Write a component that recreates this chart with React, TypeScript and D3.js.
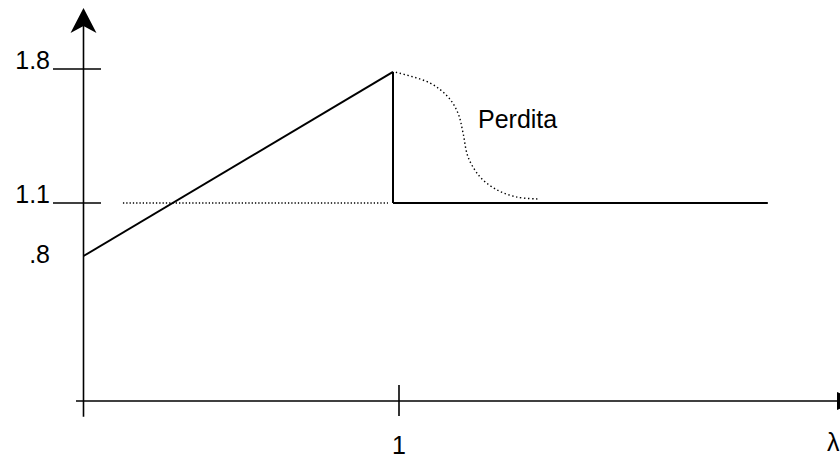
import React from "react";
import * as d3 from "d3";

const W = 840;
const H = 454;

// data (λ, value)
const risingLine: [number, number][] = [[0, 0.8], [0.981, 1.785]];
const dropLine: [number, number][] = [[0.981, 1.785], [0.981, 1.1]];
const plateau: [number, number][] = [[0.981, 1.1], [2.169, 1.1]];
const dottedRef: [number, number][] = [[0.125, 1.1], [0.965, 1.1]];
const lossCurve: [number, number][] = [
  [0.99, 1.783], [1.098, 1.727], [1.155, 1.655], [1.187, 1.57], [1.203, 1.466],
  [1.219, 1.34], [1.257, 1.236], [1.311, 1.168], [1.374, 1.131], [1.441, 1.121],
];
const yTicks = [1.8, 1.1];
const yLabels = [
  { v: 1.8, t: "1.8" },
  { v: 1.1, t: "1.1" },
  { v: 0.8, t: ".8" },
];
const xTicks = [1];
const xTickLabels = ["1"];
const annotation = "Perdita";
const xAxisName = "λ";

export default function App() {
  const x = d3.scaleLinear().domain([0, 1]).range([83.5, 399]);
  const y = d3.scaleLinear().domain([0, 0.8, 1.1, 1.8]).range([401, 256, 203, 69]);
  const line = d3.line<[number, number]>().x((d) => x(d[0])).y((d) => y(d[1]));
  const curve = d3
    .line<[number, number]>()
    .x((d) => x(d[0]))
    .y((d) => y(d[1]))
    .curve(d3.curveCatmullRom.alpha(0.5));

  const x0 = x(0);
  const y0 = y(0);
  const font = "'Liberation Sans', Arial, sans-serif";
  const fs = 25;
  return (
    <svg
      width={W}
      height={H}
      style={{ position: "absolute", left: 0, top: 0, display: "block", background: "#fff" }}
      fontFamily={font}
    >
      {/* y axis */}
      <line x1={x0} x2={x0} y1={416.7} y2={20} stroke="#000" strokeWidth={1.6} />
      <path d={`M${x0},8 L${x0 + 13},33 L${x0},26 L${x0 - 13},33 Z`} fill="#000" />
      {/* x axis */}
      <line x1={76} x2={850} y1={y0} y2={y0} stroke="#000" strokeWidth={1.6} />
      <path d={`M860,${y0} L837,${y0 - 9} L837,${y0 + 9} Z`} fill="#000" />
      {/* y ticks */}
      {yTicks.map((v) => (
        <line key={v} x1={53} x2={101} y1={y(v)} y2={y(v)} stroke="#000" strokeWidth={1.6} />
      ))}
      {yLabels.map((l) => (
        <text
          key={l.t}
          x={50}
          y={y(l.v) + (l.v === 0.8 ? 7 : 0)}
          textAnchor="end"
          fontSize={fs}
          fill="#000"
        >
          {l.t}
        </text>
      ))}
      {/* x ticks */}
      {xTicks.map((v, i) => (
        <g key={v}>
          <line x1={x(v)} x2={x(v)} y1={385} y2={416} stroke="#000" strokeWidth={1.6} />
          <text x={x(v)} y={454} textAnchor="middle" fontSize={fs} fill="#000">
            {xTickLabels[i]}
          </text>
        </g>
      ))}
      <text x={827} y={451} fontSize={fs} fill="#000">
        {xAxisName}
      </text>
      {/* data */}
      <path d={line(dottedRef) || ""} fill="none" stroke="#000" strokeWidth={1.3} strokeDasharray="1.3 2" />
      <path d={line(risingLine) || ""} fill="none" stroke="#000" strokeWidth={2} />
      <path d={line(dropLine) || ""} fill="none" stroke="#000" strokeWidth={2} />
      <path d={line(plateau) || ""} fill="none" stroke="#000" strokeWidth={2} />
      <path d={curve(lossCurve) || ""} fill="none" stroke="#000" strokeWidth={1.4} strokeDasharray="1.4 2.6" />
      <text x={478} y={128} fontSize={fs} fill="#000">
        {annotation}
      </text>
    </svg>
  );
}
